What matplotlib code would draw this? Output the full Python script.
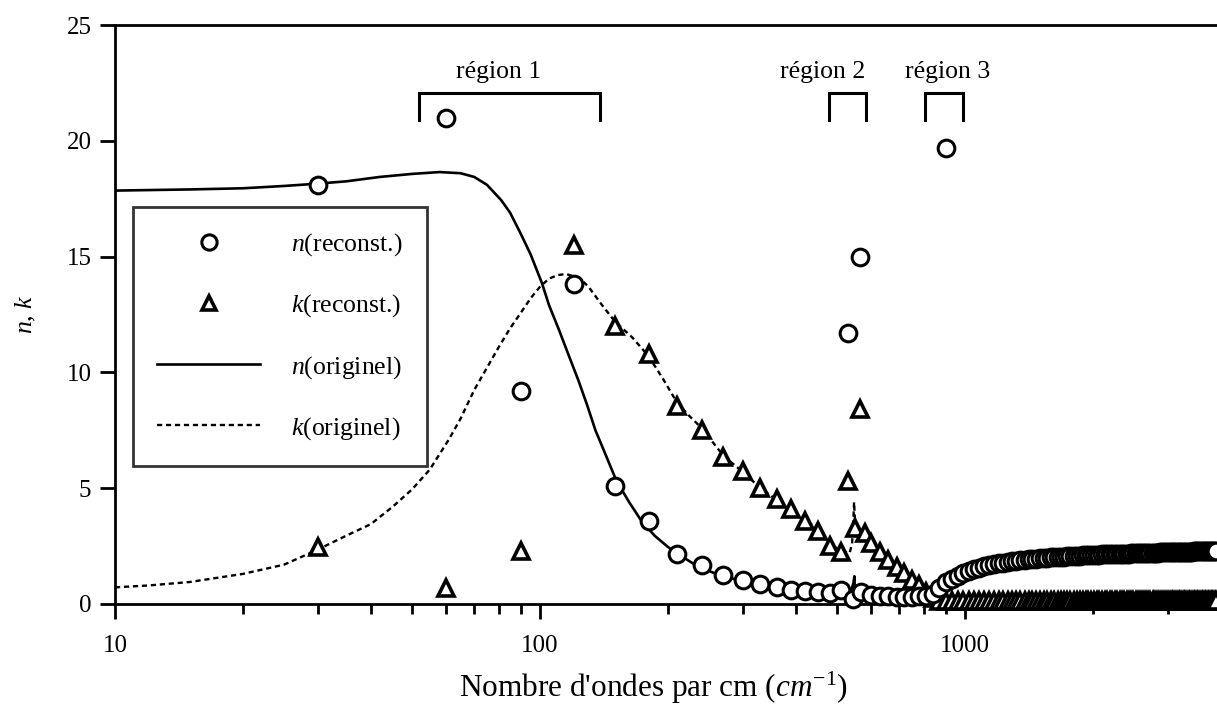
import matplotlib
matplotlib.use("Agg")
import matplotlib.pyplot as plt
from matplotlib.lines import Line2D

plt.rcParams['font.family'] = ['Liberation Serif', 'DejaVu Serif']
plt.rcParams['mathtext.fontset'] = 'custom'
plt.rcParams['mathtext.rm'] = 'Liberation Serif'
plt.rcParams['mathtext.it'] = 'Liberation Serif:italic'

# ---------------- data ----------------
# original n (solid line)
n_orig_x = [10, 15, 20, 25, 30, 35, 42, 50, 58, 65, 70, 75, 81, 85, 90, 95, 101, 105,
            111, 117, 123, 129, 135, 143, 151, 162, 173, 186, 200, 218, 236, 260, 290,
            320, 360, 400, 450, 500, 530, 540, 546, 549, 551, 553, 557, 565, 600, 650,
            700, 750, 800, 840, 870, 900, 930, 1000, 1100, 1200, 1400, 1600, 1800, 2000,
            2500, 3000, 3500, 4000]
n_orig_y = [17.85, 17.9, 17.95, 18.05, 18.15, 18.25, 18.44, 18.57, 18.65, 18.6, 18.44, 18.1,
            17.44, 16.9, 16.0, 15.1, 13.86, 12.9, 11.8, 10.7, 9.67, 8.6, 7.5, 6.4, 5.35,
            4.4, 3.6, 2.95, 2.46, 2.0, 1.6, 1.3, 1.05, 0.88, 0.73, 0.62, 0.52, 0.48, 0.5,
            0.6, 0.9, 1.2, 0.3, 0.1, 0.25, 0.38, 0.38, 0.33, 0.3, 0.28, 0.27, 0.35, 0.6,
            0.95, 1.1, 1.38, 1.6, 1.76, 1.93, 2.02, 2.08, 2.12, 2.19, 2.24, 2.27, 2.29]

# original k (dotted line)
k_orig_x = [10, 12, 15, 20, 25, 30, 35, 40, 45, 50, 55, 61, 65, 70, 75, 80, 85, 90, 95,
            100, 105, 110, 115, 120, 125, 130, 140, 150, 165, 180, 195, 210, 225, 240,
            270, 300, 330, 360, 390, 420, 450, 480, 510, 535, 542, 546, 548, 550, 553,
            560, 580, 600, 630, 660, 690, 720, 750, 780, 810, 840, 870, 900, 1000, 4000]
k_orig_y = [0.72, 0.8, 0.95, 1.3, 1.7, 2.35, 2.95, 3.45, 4.2, 4.95, 5.8, 7.1, 8.0, 9.24,
            10.2, 11.1, 11.9, 12.56, 13.2, 13.7, 14.05, 14.2, 14.25, 14.15, 14.0, 13.7,
            12.9, 12.2, 11.5, 10.7, 9.7, 8.7, 8.1, 7.6, 6.4, 5.7, 5.0, 4.5, 4.05, 3.55,
            3.1, 2.6, 2.3, 2.2, 2.6, 3.6, 4.4, 3.8, 3.3, 3.2, 3.05, 2.7, 2.25, 1.9, 1.6,
            1.3, 1.05, 0.8, 0.5, 0.22, 0.1, 0.06, 0.04, 0.02]

# reconstructed points, low / middle wavenumbers
n_rec_low_x = [30, 60, 90, 120, 150, 180, 210, 240, 270, 300, 330, 360, 390, 420, 450, 480,
               510, 530, 545, 565, 570, 600, 630, 660, 690, 720, 750, 780, 810, 840, 870,
               900, 900]
n_rec_low_y = [18.1, 21.0, 9.2, 13.8, 5.1, 3.6, 2.15, 1.7, 1.25, 1.02, 0.86, 0.73, 0.62,
               0.55, 0.5, 0.48, 0.6, 11.7, 0.22, 15.0, 0.5, 0.4, 0.33, 0.33, 0.32, 0.32,
               0.32, 0.33, 0.35, 0.45, 0.7, 0.95, 19.7]
k_rec_low_x = [30, 60, 90, 120, 150, 180, 210, 240, 270, 300, 330, 360, 390, 420, 450, 480,
               510, 530, 550, 565, 580, 600, 630, 660, 690, 720, 750, 780, 810, 840, 870, 900]
k_rec_low_y = [2.45, 0.7, 2.3, 15.5, 12.0, 10.8, 8.55, 7.5, 6.35, 5.75, 5.0, 4.55, 4.1, 3.6,
               3.15, 2.5, 2.25, 5.3, 3.3, 8.4, 3.05, 2.65, 2.25, 1.9, 1.6, 1.35, 1.05, 0.82,
               0.5, 0.25, 0.15, 0.13]

# reconstructed points, high wavenumbers (dense band)
hf_x = [930, 960, 990, 1020, 1050, 1080, 1110, 1140, 1170, 1200,
        1230, 1260, 1290, 1320, 1350, 1380, 1410, 1440, 1470, 1500,
        1530, 1560, 1590, 1620, 1650, 1680, 1710, 1740, 1770, 1800,
        1830, 1860, 1890, 1920, 1950, 1980, 2010, 2040, 2070, 2100,
        2130, 2160, 2190, 2220, 2250, 2280, 2310, 2340, 2370, 2400,
        2430, 2460, 2490, 2520, 2550, 2580, 2610, 2640, 2670, 2700,
        2730, 2760, 2790, 2820, 2850, 2880, 2910, 2940, 2970, 3000,
        3030, 3060, 3090, 3120, 3150, 3180, 3210, 3240, 3270, 3300,
        3330, 3360, 3390, 3420, 3450, 3480, 3510, 3540, 3570, 3600,
        3630, 3660, 3690, 3720, 3750, 3780, 3810, 3840, 3870, 3900]
n_rec_hf = [1.10, 1.22, 1.32, 1.41, 1.49, 1.56, 1.62, 1.67, 1.72, 1.76,
            1.79, 1.82, 1.85, 1.87, 1.89, 1.91, 1.93, 1.95, 1.96, 1.98,
            1.99, 2.00, 2.01, 2.02, 2.03, 2.04, 2.05, 2.06, 2.07, 2.08,
            2.08, 2.09, 2.10, 2.10, 2.11, 2.12, 2.12, 2.13, 2.13, 2.14,
            2.14, 2.15, 2.15, 2.16, 2.16, 2.17, 2.17, 2.17, 2.18, 2.18,
            2.18, 2.19, 2.19, 2.19, 2.20, 2.20, 2.20, 2.21, 2.21, 2.21,
            2.21, 2.22, 2.22, 2.22, 2.22, 2.23, 2.23, 2.23, 2.23, 2.24,
            2.24, 2.24, 2.24, 2.24, 2.25, 2.25, 2.25, 2.25, 2.25, 2.26,
            2.26, 2.26, 2.26, 2.26, 2.27, 2.27, 2.27, 2.27, 2.27, 2.28,
            2.28, 2.28, 2.28, 2.28, 2.28, 2.29, 2.29, 2.29, 2.29, 2.29]
k_rec_hf = [0.13, 0.13, 0.13, 0.13, 0.13, 0.13, 0.13, 0.13, 0.13, 0.13,
            0.13, 0.13, 0.13, 0.13, 0.13, 0.13, 0.13, 0.13, 0.13, 0.13,
            0.13, 0.13, 0.13, 0.13, 0.13, 0.13, 0.13, 0.13, 0.13, 0.13,
            0.13, 0.13, 0.13, 0.13, 0.13, 0.13, 0.13, 0.13, 0.13, 0.13,
            0.13, 0.13, 0.13, 0.13, 0.13, 0.13, 0.13, 0.13, 0.13, 0.13,
            0.13, 0.13, 0.13, 0.13, 0.13, 0.13, 0.13, 0.13, 0.13, 0.13,
            0.13, 0.13, 0.13, 0.13, 0.13, 0.13, 0.13, 0.13, 0.13, 0.13,
            0.13, 0.13, 0.13, 0.13, 0.13, 0.13, 0.13, 0.13, 0.13, 0.13,
            0.13, 0.13, 0.13, 0.13, 0.13, 0.13, 0.13, 0.13, 0.13, 0.13,
            0.13, 0.13, 0.13, 0.13, 0.13, 0.13, 0.13, 0.13, 0.13, 0.13]

# labelled regions (wavenumber bounds and label centre)
region_labels = ["région 1", "région 2", "région 3"]
region_lo = [52, 478, 805]
region_hi = [138, 586, 989]
region_label_x = [80, 462, 908]

x_ticks = [10, 100, 1000]
x_tick_labels = ["10", "100", "1000"]
y_ticks = [0, 5, 10, 15, 20, 25]

# ---------------- figure ----------------
W, H = 1217, 726
fig = plt.figure(figsize=(W / 100, H / 100), dpi=100)
ax = fig.add_axes([115 / W, (H - 604) / H, 1106 / W, 579 / H])

ax.plot(n_orig_x, n_orig_y, color='black', lw=1.9, zorder=2)
ax.plot(k_orig_x, k_orig_y, color='black', lw=1.7, linestyle=(0, (2.2, 1.6)), zorder=2)

n_rec_x = n_rec_low_x + hf_x
n_rec_y = n_rec_low_y + n_rec_hf
k_rec_x = k_rec_low_x + hf_x
k_rec_y = k_rec_low_y + k_rec_hf

ax.plot(k_rec_x, k_rec_y, linestyle='none', marker='^', markersize=12,
        markerfacecolor='white', markeredgecolor='black', markeredgewidth=2.6,
        zorder=3, clip_on=False)
ax.plot(n_rec_x, n_rec_y, linestyle='none', marker='o', markersize=12,
        markerfacecolor='white', markeredgecolor='black', markeredgewidth=2.2,
        zorder=4, clip_on=False)

ax.set_xscale('log')
ax.set_xlim(10, 4000)
ax.set_ylim(0, 25)
ax.set_xticks(x_ticks)
ax.set_xticklabels(x_tick_labels)
ax.set_yticks(y_ticks)

for s in ['left', 'bottom', 'top']:
    ax.spines[s].set_linewidth(2.0)
ax.spines['right'].set_visible(False)

ax.tick_params(axis='both', which='major', direction='out', length=11, width=2.0,
               labelsize=18)
ax.tick_params(axis='x', which='major', pad=11)
ax.tick_params(axis='y', which='major', pad=6)
ax.tick_params(axis='x', which='minor', direction='out', length=7, width=2.0)
ax.tick_params(axis='y', which='minor', left=False)

# region brackets
for lab, lo, hi, lx in zip(region_labels, region_lo, region_hi, region_label_x):
    ax.plot([lo, lo, hi, hi], [20.9, 22.05, 22.05, 20.9], color='black', lw=2.2,
            solid_joinstyle='miter', clip_on=False, zorder=5)
    ax.text(lx, 22.5, lab, ha='center', va='bottom', fontsize=18.5)

ax.set_xlabel("Nombre d'ondes par cm ($cm^{-1}$)", fontsize=22.5)
ax.xaxis.set_label_coords(0.487, -0.113)
ax.set_ylabel("$n$, $k$", fontsize=18.5)
ax.yaxis.set_label_coords(-0.0696, 0.5)

handles = [
    Line2D([], [], linestyle='none', marker='o', markersize=11, markerfacecolor='white',
           markeredgecolor='black', markeredgewidth=2.2),
    Line2D([], [], linestyle='none', marker='^', markersize=10.5, markerfacecolor='white',
           markeredgecolor='black', markeredgewidth=2.6),
    Line2D([], [], color='black', lw=1.9),
    Line2D([], [], color='black', lw=1.7, linestyle=(0, (2.2, 1.6))),
]
labels = ["$n$(reconst.)", "$k$(reconst.)", "$n$(originel)", "$k$(originel)"]
leg = ax.legend(handles, labels, loc='upper left', bbox_to_anchor=(0.0163, 0.686),
                borderaxespad=0, fontsize=18.5, frameon=True, fancybox=False,
                handlelength=4.0, handletextpad=1.2, labelspacing=1.34,
                borderpad=0.95)
leg.get_frame().set_edgecolor('black')
leg.get_frame().set_linewidth(2.0)
leg.set_zorder(6)

fig.savefig("out.png", dpi=100)
